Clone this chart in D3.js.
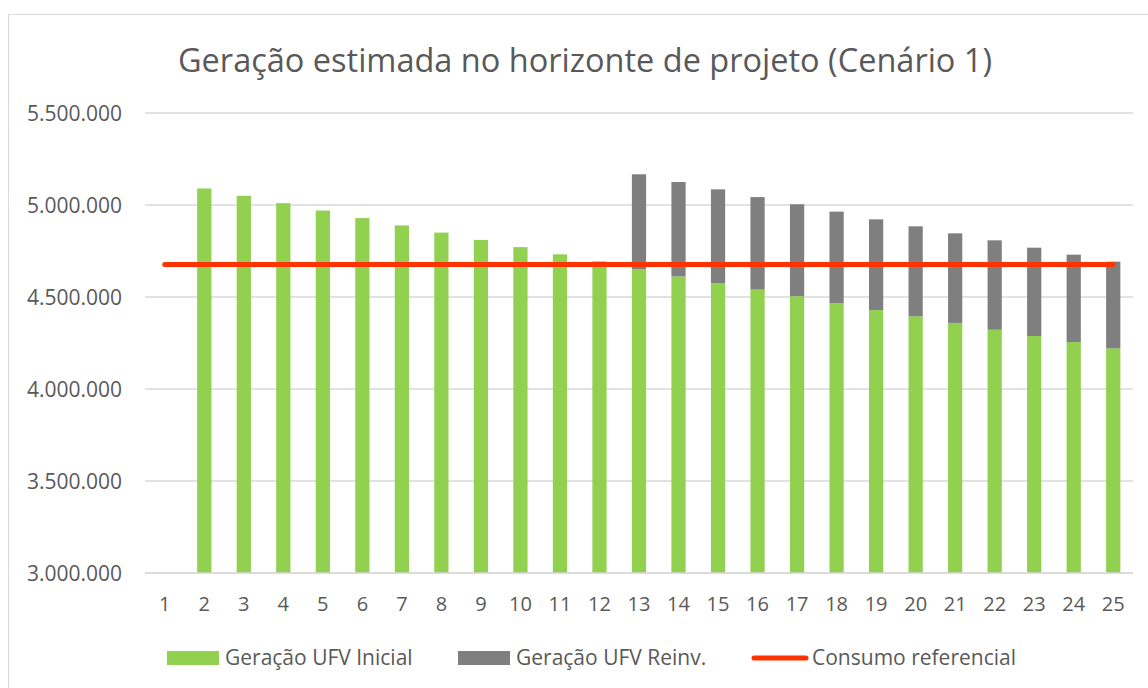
<!DOCTYPE html>
<meta charset="utf-8">
<style>
body { margin: 0; background: #fff; }
svg text { font-family: "Open Sans", sans-serif; fill: #595959; }
.grid line { stroke: #d9d9d9; stroke-width: 1.5px; }
.axis--x path, .axis--x line { display: none; }
.axis--y path, .axis--y line { display: none; }
</style>
<body>
<svg width="1148" height="688"></svg>
<script src="https://d3js.org/d3.v7.min.js"></script>
<script>

// anos do horizonte
var anos = ["1","2","3","4","5","6","7","8","9","10","11","12","13",
            "14","15","16","17","18","19","20","21","22","23","24","25"];

// geração da UFV inicial (ano 1 sem barra)
var geracaoInicial = [null, 5090000, 5050000, 5010000, 4970000, 4929000, 4889000,
  4850000, 4810000, 4771000, 4732000, 4694000, 4652000, 4612000, 4574000,
  4540000, 4504000, 4466000, 4429000, 4395000, 4359000, 4322000, 4288000,
  4255000, 4221000];

// geração da UFV de reinvestimento (a partir do ano 13)
var geracaoReinv = [0, 0, 0, 0, 0, 0, 0, 0, 0, 0, 0, 0, 515000, 513000, 511000,
  503000, 500000, 498000, 493000, 489000, 487000, 486000, 480000, 475000, 471000];

// consumo referencial
var consumoRef = [4676000, 4676000, 4676000, 4676000, 4676000, 4676000, 4676000,
  4676000, 4676000, 4676000, 4676000, 4676000, 4676000, 4676000, 4676000,
  4676000, 4676000, 4676000, 4676000, 4676000, 4676000, 4676000, 4676000,
  4676000, 4676000];

var yTicks = [3000000, 3500000, 4000000, 4500000, 5000000, 5500000];

var titulo = "Geração estimada no horizonte de projeto (Cenário 1)";
var legenda = ["Geração UFV Inicial", "Geração UFV Reinv.", "Consumo referencial"];

var svg = d3.select("svg");

// borda do gráfico (sai da imagem à direita e embaixo)
svg.append("rect")
    .attr("x", 8.5).attr("y", 14.5)
    .attr("width", 1200).attr("height", 700)
    .attr("fill", "none")
    .attr("stroke", "#d9d9d9");

var pLeft = 145, pRight = 1133, pTop = 113, pBottom = 573;

var x = d3.scaleBand().domain(anos).range([pLeft, pRight])
    .paddingInner(0.64).paddingOuter(0.32);
var y = d3.scaleLinear().domain([3000000, 5500000]).range([pBottom, pTop]);

var fmt = function(v) { return d3.format(",")(v).replace(/,/g, "."); };

svg.append("text")
    .attr("x", 585).attr("y", 72)
    .attr("text-anchor", "middle")
    .style("font-size", "32.5px")
    .text(titulo);

// linhas de grade
svg.append("g").attr("class", "grid")
  .selectAll("line")
  .data(yTicks)
  .enter().append("line")
    .attr("x1", pLeft).attr("x2", pRight)
    .attr("y1", function(d) { return y(d); })
    .attr("y2", function(d) { return y(d); });

svg.append("g")
    .attr("class", "axis axis--y")
    .attr("transform", "translate(" + (pLeft - 14) + ",0)")
    .call(d3.axisLeft(y).tickValues(yTicks).tickFormat(fmt).tickSize(0))
    .call(function(g) { g.select(".domain").remove(); })
  .selectAll("text")
    .style("font-size", "21px")
    .attr("dy", "0.35em")
    .attr("x", -9);

svg.append("g")
    .attr("class", "axis axis--x")
    .attr("transform", "translate(0," + pBottom + ")")
    .call(d3.axisBottom(x).tickSize(0))
  .selectAll("text")
    .style("font-size", "20px")
    .attr("y", 38)
    .attr("dy", "0");

var data = anos.map(function(a, i) {
  return { ano: a, ini: geracaoInicial[i], reinv: geracaoReinv[i] };
});

svg.append("g").selectAll("rect")
  .data(data.filter(function(d) { return d.ini; }))
  .enter().append("rect")
    .attr("x", function(d) { return x(d.ano); })
    .attr("width", x.bandwidth())
    .attr("y", function(d) { return y(d.ini); })
    .attr("height", function(d) { return pBottom - y(d.ini); })
    .attr("fill", "#92d050");

svg.append("g").selectAll("rect")
  .data(data.filter(function(d) { return d.reinv > 0; }))
  .enter().append("rect")
    .attr("x", function(d) { return x(d.ano); })
    .attr("width", x.bandwidth())
    .attr("y", function(d) { return y(d.ini + d.reinv); })
    .attr("height", function(d) { return y(d.ini) - y(d.ini + d.reinv); })
    .attr("fill", "#7f7f7f");

// eixo x (linha base)
svg.append("line")
    .attr("x1", pLeft).attr("x2", pRight)
    .attr("y1", pBottom).attr("y2", pBottom)
    .attr("stroke", "#d9d9d9").attr("stroke-width", 1.5);

var line = d3.line()
    .x(function(d, i) { return x(anos[i]) + x.bandwidth() / 2; })
    .y(function(d) { return y(d); });

svg.append("path")
    .datum(consumoRef)
    .attr("d", line)
    .attr("fill", "none")
    .attr("stroke", "#ff3300")
    .attr("stroke-width", 5)
    .attr("stroke-linecap", "round");

// legenda
var leg = svg.append("g").attr("transform", "translate(0,658)");
leg.append("rect").attr("x", 167).attr("y", -7).attr("width", 52).attr("height", 14).attr("fill", "#92d050");
leg.append("text").attr("x", 225).attr("y", 0).attr("dy", "0.35em").style("font-size", "21px").text(legenda[0]);
leg.append("rect").attr("x", 458).attr("y", -7).attr("width", 52).attr("height", 14).attr("fill", "#7f7f7f");
leg.append("text").attr("x", 516).attr("y", 0).attr("dy", "0.35em").style("font-size", "21px").text(legenda[1]);
leg.append("line").attr("x1", 754).attr("x2", 806).attr("y1", 0).attr("y2", 0)
    .attr("stroke", "#ff3300").attr("stroke-width", 5).attr("stroke-linecap", "round");
leg.append("text").attr("x", 812).attr("y", 0).attr("dy", "0.35em").style("font-size", "21px").text(legenda[2]);

</script>
</body>
